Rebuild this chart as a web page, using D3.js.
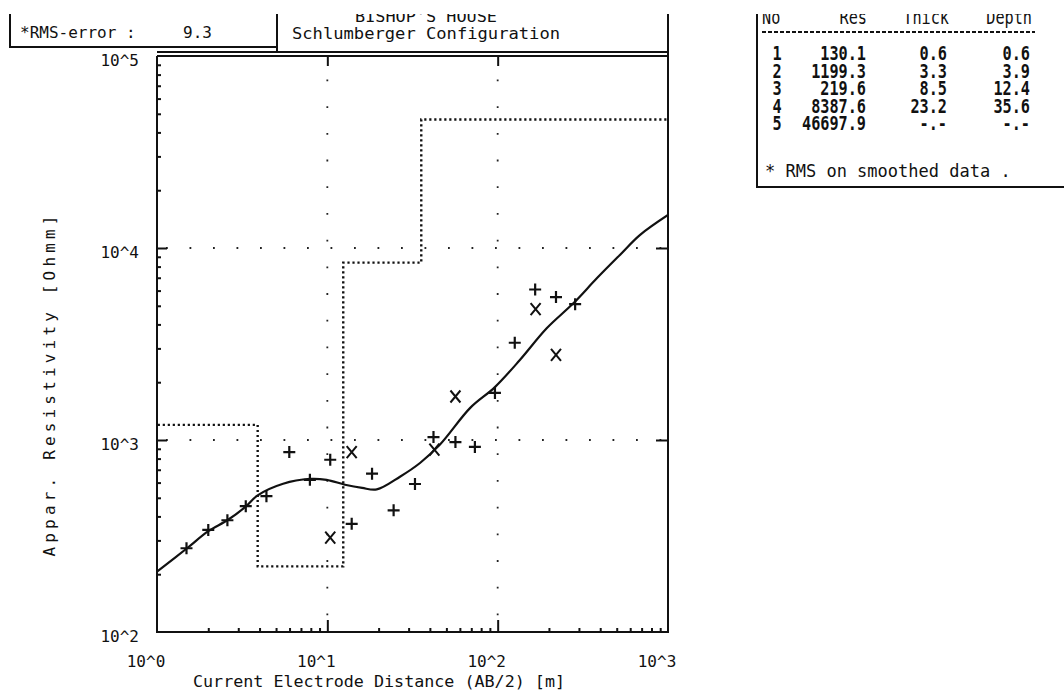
<!DOCTYPE html>
<meta charset="utf-8">
<style>
body { margin: 0; background: #fff; }
svg { display: block; }
text { font-family: "DejaVu Sans Mono", monospace; fill: #111; }
.tick line { stroke: #111; stroke-width: 2; }
.frame { fill: none; stroke: #111; stroke-width: 2; }
.grid { fill: none; stroke: #222; stroke-width: 1.8; }
</style>
<svg width="1064" height="691"></svg>
<script src="https://cdn.jsdelivr.net/npm/d3@7/dist/d3.min.js"></script>
<script>

// measured points, "+" symbols
var plusDist = [1.49, 2.0, 2.59, 3.32, 4.39, 5.98, 7.9, 10.4, 13.9, 18.3, 24.5, 32.7, 42, 56.5, 73.5, 96.4, 126, 166, 220, 285];
var plusRes  = [273, 340, 382, 452, 510, 865, 620, 789, 366, 668, 430, 590, 1036, 975, 920, 1758, 3210, 6080, 5550, 5100];

// measured points, "x" symbols
var crossDist = [10.4, 13.9, 42.5, 56.5, 167, 220];
var crossRes  = [310, 865, 890, 1685, 4800, 2778];

// computed sounding curve
var curveDist = [1, 1.5, 2, 2.6, 3.3, 3.9, 5.5, 7.9, 9.9, 12.7, 16, 19.5, 26.7, 35, 46, 69, 96, 135, 194, 278, 382, 522, 686, 1000];
var curveRes  = [206, 273, 335, 383, 448, 515, 592, 627, 620, 585, 563, 553, 644, 759, 950, 1470, 1880, 2610, 3817, 5150, 6950, 9200, 11700, 14850];

// layer model
var layerNo    = [1, 2, 3, 4, 5];
var layerRes   = [130.1, 1199.3, 219.6, 8387.6, 46697.9];
var layerThick = [0.6, 3.3, 8.5, 23.2, null];
var layerDepth = [0.6, 3.9, 12.4, 35.6, null];

var xTicks = [1, 10, 100, 1000];
var yTicks = [100, 1000, 10000, 100000];
var tickLabel = ["10^0", "10^1", "10^2", "10^3"];
var yTickLabel = ["10^2", "10^3", "10^4", "10^5"];

var rmsError = 9.3;

var svg = d3.select("svg");

var pL = 157, pR = 668, pT = 56, pB = 632;

var x = d3.scaleLog().domain([1, 1000]).range([pL, pR]);
var y = d3.scaleLog().domain([100, 100000]).range([pB, pT]);

var xMinor = [], yMinor = [];
[1, 10, 100].forEach(function(d) { for (var k = 2; k <= 9; k++) xMinor.push(d * k); });
[100, 1000, 10000].forEach(function(d) { for (var k = 2; k <= 9; k++) yMinor.push(d * k); });

svg.append("clipPath").attr("id", "plot")
  .append("rect").attr("x", pL).attr("y", pT).attr("width", pR - pL).attr("height", pB - pT);

// grid dots
svg.selectAll(".hgrid").data([1000, 10000]).enter().append("line")
    .attr("class", "grid")
    .attr("x1", pL).attr("x2", pR)
    .attr("y1", function(d) { return y(d); }).attr("y2", function(d) { return y(d); })
    .attr("stroke-dasharray", "1.8,21.7")
    .attr("stroke-dashoffset", 14.5);

svg.selectAll(".vgrid").data([10, 100]).enter().append("line")
    .attr("class", "grid")
    .attr("y1", pB).attr("y2", pT)
    .attr("x1", function(d) { return x(d); }).attr("x2", function(d) { return x(d); })
    .attr("stroke-dasharray", "1.8,24.9")
    .attr("stroke-dashoffset", 10);

// axes ticks
function noDomain(g) { g.select(".domain").remove(); g.selectAll("text").remove(); }

svg.append("g").attr("transform", "translate(" + pL + ",0)")
    .call(d3.axisRight(y).tickValues(yMinor).tickSize(4)).call(noDomain);
svg.append("g").attr("transform", "translate(" + pL + ",0)")
    .call(d3.axisRight(y).tickValues([1000, 10000]).tickSize(10)).call(noDomain);
svg.append("g").attr("transform", "translate(" + pR + ",0)")
    .call(d3.axisLeft(y).tickValues([1000, 10000]).tickSize(12)).call(noDomain);
svg.append("g").attr("transform", "translate(0," + pB + ")")
    .call(d3.axisTop(x).tickValues(xMinor).tickSize(4)).call(noDomain);
svg.append("g").attr("transform", "translate(0," + pB + ")")
    .call(d3.axisTop(x).tickValues([10, 100]).tickSize(12)).call(noDomain);
svg.append("g").attr("transform", "translate(0," + pT + ")")
    .call(d3.axisBottom(x).tickValues([10, 100]).tickSize(10)).call(noDomain);

// model step line
var model = [];
var prev = 0.3;
layerRes.forEach(function(r, i) {
  var next = layerDepth[i] == null ? 1000 : layerDepth[i];
  model.push([prev, r]);
  model.push([next, r]);
  prev = next;
});

var line = d3.line().x(function(d) { return x(d[0]); }).y(function(d) { return y(d[1]); });

svg.append("path")
    .datum(model)
    .attr("clip-path", "url(#plot)")
    .attr("fill", "none")
    .attr("stroke", "#111")
    .attr("stroke-width", 2.4)
    .attr("stroke-dasharray", "2.2,2.8")
    .attr("d", line);

// sounding curve
svg.append("path")
    .datum(curveDist.map(function(d, i) { return [d, curveRes[i]]; }))
    .attr("clip-path", "url(#plot)")
    .attr("fill", "none")
    .attr("stroke", "#111")
    .attr("stroke-width", 2.2)
    .attr("d", line.curve(d3.curveCatmullRom));

// data symbols
svg.selectAll(".plus").data(plusDist).enter().append("path")
    .attr("transform", function(d, i) { return "translate(" + x(d) + "," + y(plusRes[i]) + ")"; })
    .attr("d", "M-6,0H6M0,-6V6")
    .attr("stroke", "#111").attr("stroke-width", 2.2);

svg.selectAll(".cross").data(crossDist).enter().append("path")
    .attr("transform", function(d, i) { return "translate(" + x(d) + "," + y(crossRes[i]) + ")"; })
    .attr("d", "M-5,-6L5,6M5,-6L-5,6")
    .attr("stroke", "#111").attr("stroke-width", 2);

// frame
svg.append("path").attr("class", "frame")
    .attr("d", "M" + pL + "," + pT + "V" + pB + "H" + pR + "V0");
svg.append("path").attr("class", "frame")
    .attr("d", "M" + pL + "," + pT + "H" + pR);
svg.append("path").attr("class", "frame").attr("stroke-width", 1.5).attr("stroke", "#555")
    .attr("d", "M" + pL + ",52H" + pR);

// tick labels
svg.selectAll(".ylab").data(yTicks).enter().append("text")
    .attr("x", 139)
    .attr("y", function(d) { return y(d) + 5; })
    .attr("dominant-baseline", "middle")
    .attr("text-anchor", "end")
    .attr("font-size", 16)
    .text(function(d, i) { return yTickLabel[i]; });

svg.selectAll(".xlab").data(xTicks).enter().append("text")
    .attr("x", function(d) { return x(d) - 11; })
    .attr("y", 667)
    .attr("text-anchor", "middle")
    .attr("font-size", 16)
    .text(function(d, i) { return tickLabel[i]; });

svg.append("text")
    .attr("x", 379).attr("y", 687)
    .attr("text-anchor", "middle")
    .attr("font-size", 16)
    .attr("textLength", 372)
    .attr("lengthAdjust", "spacingAndGlyphs")
    .text("Current Electrode Distance (AB/2) [m]");

svg.append("text")
    .attr("transform", "translate(55,386) rotate(-90)")
    .attr("text-anchor", "middle")
    .attr("font-size", 16)
    .attr("textLength", 341)
    .attr("lengthAdjust", "spacing")
    .text("Appar. Resistivity [Ohmm]");

// header boxes
svg.append("path").attr("class", "frame").attr("d", "M10,12V47H277V0M277,47V52");
svg.append("text").attr("x", 20).attr("y", 38).attr("font-size", 16).text("*RMS-error :");
svg.append("text").attr("x", 183).attr("y", 38).attr("font-size", 16).text(rmsError.toFixed(1));

svg.append("text").attr("x", 426).attr("y", 22).attr("text-anchor", "middle")
    .attr("font-size", 16).attr("textLength", 142).attr("lengthAdjust", "spacingAndGlyphs")
    .text("BISHOP'S HOUSE");
svg.append("text").attr("x", 426).attr("y", 39).attr("text-anchor", "middle")
    .attr("font-size", 16).attr("textLength", 268).attr("lengthAdjust", "spacingAndGlyphs")
    .text("Schlumberger Configuration");

// layer table
var table = svg.append("g");
table.append("path").attr("class", "frame").attr("d", "M757,0V187H1070");

function cell(txt, cx, cy, anchor, weight) {
  table.append("text")
      .attr("transform", "translate(" + cx + "," + cy + ") scale(0.8,1)")
      .attr("text-anchor", anchor)
      .attr("font-size", 19)
      .attr("font-weight", weight || "normal")
      .text(txt);
}
cell("No", 762, 24, "start");
cell("Res", 867, 24, "end");
cell("Thick", 949, 24, "end");
cell("Depth", 1032, 24, "end");

table.append("line")
    .attr("x1", 762).attr("x2", 1035).attr("y1", 32).attr("y2", 32)
    .attr("stroke", "#111").attr("stroke-width", 2).attr("stroke-dasharray", "4,2");

var f1 = d3.format(".1f");
layerNo.forEach(function(n, i) {
  var cy = 60 + i * 17.5;
  cell(n, 777, cy, "middle", "bold");
  cell(f1(layerRes[i]), 866, cy, "end", "bold");
  cell(layerThick[i] == null ? "-.-" : f1(layerThick[i]), 947, cy, "end", "bold");
  cell(layerDepth[i] == null ? "-.-" : f1(layerDepth[i]), 1030, cy, "end", "bold");
});

table.append("text").attr("x", 765).attr("y", 177).attr("font-size", 17)
    .text("* RMS on smoothed data  .");

// top edge of the scan is cut off
svg.append("rect").attr("x", 0).attr("y", 0).attr("width", 1064).attr("height", 14).attr("fill", "#fff");

</script>
